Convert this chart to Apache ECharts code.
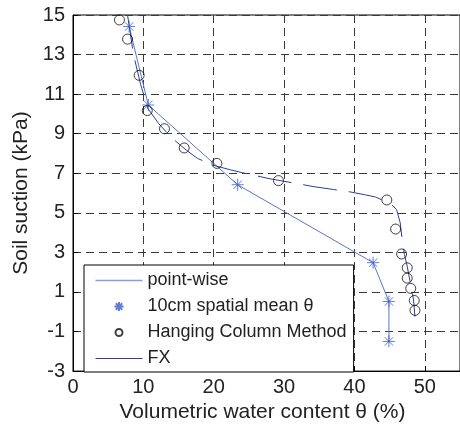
<!DOCTYPE html>
<html>
<head>
<meta charset="utf-8">
<script src="https://cdn.jsdelivr.net/npm/echarts@6/dist/echarts.min.js"></script>
<style>
html,body{margin:0;padding:0;background:#fff;}
#chart{width:460px;height:428px;}
</style>
</head>
<body>
<div id="chart"></div>
<script>
// ---- data ----
const xTicks = [0, 10, 20, 30, 40, 50];
const yTicks = [-3, -1, 1, 3, 5, 7, 9, 11, 13, 15];

// 10cm spatial mean theta (stars), also joined by the point-wise line
const meanTheta   = [7.98, 10.7, 23.4, 42.65, 44.9, 44.9];
const meanSuction = [14.42, 10.45, 6.42, 2.48, 0.52, -1.5];

// Hanging column method (open circles)
const hcmTheta   = [6.6, 7.75, 9.4, 10.55, 13.0, 15.8, 20.45, 29.2, 44.6, 45.85, 46.7, 47.5, 47.5, 48.0, 48.5, 48.6];
const hcmSuction = [14.75, 13.78, 11.95, 10.17, 9.25, 8.28, 7.5, 6.63, 5.65, 4.18, 2.92, 2.22, 1.7, 1.18, 0.57, 0.07];

// FX fitted curve
const fxTheta   = [7.75, 8.6, 9.6, 10.6, 12.2, 14.0, 16.1, 17.7, 20.0, 22.4, 24.4, 28.0, 32.3, 34.1, 37.0, 39.5, 41.4, 43.0, 44.5, 45.5, 46.0, 46.5, 46.8, 47.1, 47.5, 47.7, 48.1, 48.4, 48.6];
const fxSuction = [15.0, 13.0, 11.5, 10.3, 9.5, 8.8, 8.17, 7.75, 7.4, 7.17, 7.0, 6.72, 6.45, 6.33, 6.18, 6.05, 5.92, 5.8, 5.55, 5.35, 5.15, 4.5, 3.6, 2.9, 2.3, 1.9, 1.2, 0.6, -0.25];

const seriesNames = ['point-wise', '10cm spatial mean θ', 'Hanging Column Method', 'FX'];

// ---- build chart ----
const pairs = (xs, ys) => xs.map((x, i) => [x, ys[i]]);
const FONT = "'Liberation Sans', Arial, Helvetica, sans-serif";
const starPath = 'path://M5,0L5,10M0,5L10,5M1.5,1.5L8.5,8.5M1.5,8.5L8.5,1.5';
const starIcon = 'path://M0,0M14,14M7,2.4L7,11.6M2.4,7L11.6,7M3.8,3.8L10.2,10.2M3.8,10.2L10.2,3.8';
const circIcon = 'path://M0,0M14,14M3.5,7A3.5,3.5,0,1,1,10.5,7A3.5,3.5,0,1,1,3.5,7Z';
const lineIcon = 'path://M0,0M47,14M0,7L47,7';

const cPoint = '#5a74cc', cStar = '#3a5ccc', cFx = '#2c3f99';
const gridLine = {show: true, lineStyle: {type: [8, 5], color: '#3a3a3a', width: 1}};

const chart = echarts.init(document.getElementById('chart'), null, {renderer: 'canvas'});
chart.setOption({
  animation: false,
  backgroundColor: '#fff',
  textStyle: {fontFamily: FONT},
  grid: {left: 73, top: 15, width: 393, height: 359, show: true, borderColor: '#000', borderWidth: 1},
  xAxis: {
    type: 'value', min: 0, max: 55, interval: 10,
    axisLine: {onZero: false, lineStyle: {color: '#000', width: 1}},
    axisTick: {inside: true, length: 5, customValues: xTicks, lineStyle: {color: '#000'}},
    axisLabel: {customValues: xTicks, margin: 6, fontSize: 20, color: '#222', fontFamily: FONT},
    splitLine: gridLine,
    name: 'Volumetric water content θ (%)', nameLocation: 'middle', nameGap: 27,
    nameTextStyle: {fontSize: 21, color: '#222', fontFamily: FONT, padding: [0, 8, 0, 0]}
  },
  yAxis: {
    type: 'value', min: -3, max: 15,
    axisLine: {onZero: false, lineStyle: {color: '#000', width: 1}},
    axisTick: {inside: true, length: 5, customValues: yTicks, lineStyle: {color: '#000'}},
    axisLabel: {customValues: yTicks, margin: 8, fontSize: 20, color: '#222', fontFamily: FONT},
    splitLine: gridLine,
    name: 'Soil suction (kPa)', nameLocation: 'middle', nameGap: 31,
    nameTextStyle: {fontSize: 21, color: '#222', fontFamily: FONT}
  },
  legend: {
    orient: 'vertical', left: 84, top: 265,
    padding: [6, 7, 4, 9], itemGap: 7, itemWidth: 47, itemHeight: 14,
    backgroundColor: '#fff', borderColor: '#000', borderWidth: 1, borderRadius: 0,
    textStyle: {fontSize: 18, color: '#222', fontFamily: FONT},
    selectedMode: false,
    data: [
      {name: seriesNames[0], icon: lineIcon, itemStyle: {color: 'none', borderColor: '#8a9cdc', borderWidth: 1.5}},
      {name: seriesNames[1], icon: starIcon},
      {name: seriesNames[2], icon: circIcon},
      {name: seriesNames[3], icon: lineIcon, itemStyle: {color: 'none', borderColor: cFx, borderWidth: 1.2}}
    ]
  },
  series: [
    {name: seriesNames[0], type: 'line', data: pairs(meanTheta, meanSuction), symbol: 'none',
     lineStyle: {color: cPoint, width: 1}, itemStyle: {color: cPoint}, z: 2},
    {name: seriesNames[1], type: 'scatter', data: pairs(meanTheta, meanSuction), symbol: starPath, symbolSize: 12,
     itemStyle: {color: 'none', borderColor: cStar, borderWidth: 1}, z: 3},
    {name: seriesNames[2], type: 'scatter', data: pairs(hcmTheta, hcmSuction), symbol: 'circle', symbolSize: 10,
     itemStyle: {color: 'none', borderColor: '#111', borderWidth: 1}, z: 3},
    {name: seriesNames[3], type: 'line', data: pairs(fxTheta, fxSuction), symbol: 'none',
     lineStyle: {color: cFx, width: 1, type: [34, 12]}, itemStyle: {color: cFx}, z: 2}
  ]
});
</script>
</body>
</html>
